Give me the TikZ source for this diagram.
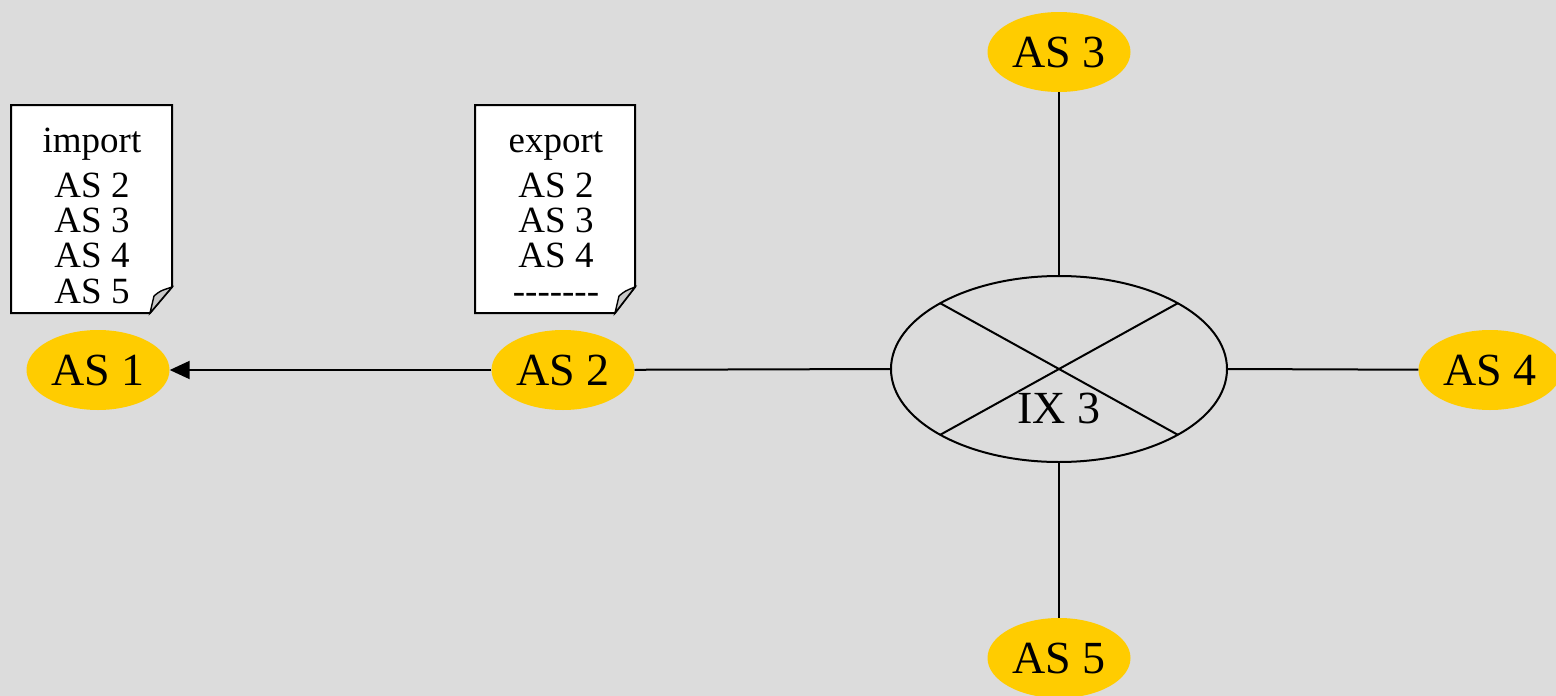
\documentclass[tikz,border=0pt]{standalone}
\usepackage{fontspec}
\setmainfont{Liberation Serif}
\newfontfamily\timesfont{Liberation Serif}
\usetikzlibrary{shapes.geometric,arrows.meta}
\definecolor{bg}{RGB}{220,220,220}
\definecolor{asyellow}{RGB}{255,204,0}
\definecolor{foldgray}{RGB}{200,200,200}
\tikzset{
  asnode/.style={ellipse,fill=asyellow,draw=none,minimum width=143pt,minimum height=80pt,inner sep=0pt,font=\timesfont\fontsize{46}{46}\selectfont},
  link/.style={line width=2pt},
  docbox/.style={draw,line width=2pt,fill=white},
  doctext/.style={anchor=base,inner sep=0pt,font=\timesfont\fontsize{37}{37}\selectfont},
}
\begin{document}
\begin{tikzpicture}[x=1pt,y=-1pt]
\fill[bg] (0,0) rectangle (1556,696);
\useasboundingbox (0,0) rectangle (1556,696);

% AS nodes
\node[asnode] (as1) at (98,370) {AS 1};
\node[asnode] (as2) at (563,370) {AS 2};
\node[asnode] (as3) at (1059,52) {AS 3};
\node[asnode] (as4) at (1490,370) {AS 4};
\node[asnode] (as5) at (1059,658) {AS 5};

% IX
\node[ellipse,draw,line width=2pt,minimum width=336pt,minimum height=186pt,inner sep=0pt] (ix) at (1059,369) {};
\draw[link] ([shift={(-118.8,-65.8)}]ix.center) -- ([shift={(118.8,65.8)}]ix.center);
\draw[link] ([shift={(118.8,-65.8)}]ix.center) -- ([shift={(-118.8,65.8)}]ix.center);
\node[inner sep=0pt,anchor=base,font=\timesfont\fontsize{46}{46}\selectfont] (ixlabel) at (1059,423) {IX 3};

% connectors
\draw[link] (as3) -- (ix.north);
\draw[link] (as5) -- (ix.south);
\draw[link] (as2) -- (ix.west);
\draw[link] (ix.east) -- (as4);
\draw[link,-{Triangle[length=20pt,width=18pt]}] (as2) -- (as1);

% import document
\draw[docbox] (11,105) -- (172,105) -- (172,287) -- (150,313) -- (11,313) -- cycle;
\draw[line width=1.4pt,fill=foldgray] (150,313) -- (154,296) .. controls (160,291) .. (172,287) -- cycle;
\node[doctext] (imp0) at (92,152) {import};
\node[doctext] (imp1) at (92,197) {AS 2};
\node[doctext] (imp2) at (92,232) {AS 3};
\node[doctext] (imp3) at (92,267) {AS 4};
\node[doctext] (imp4) at (92,303) {AS 5};

% export document
\draw[docbox] (475,105) -- (635,105) -- (635,287) -- (615,313) -- (475,313) -- cycle;
\draw[line width=1.4pt,fill=foldgray] (615,313) -- (619,296) .. controls (625,291) .. (635,287) -- cycle;
\node[doctext] (exp0) at (556,152) {export};
\node[doctext] (exp1) at (556,197) {AS 2};
\node[doctext] (exp2) at (556,232) {AS 3};
\node[doctext] (exp3) at (556,267) {AS 4};
\node[doctext] (exp4) at (556,303) {-{}-{}-{}-{}-{}-{}-};
\end{tikzpicture}
\end{document}
